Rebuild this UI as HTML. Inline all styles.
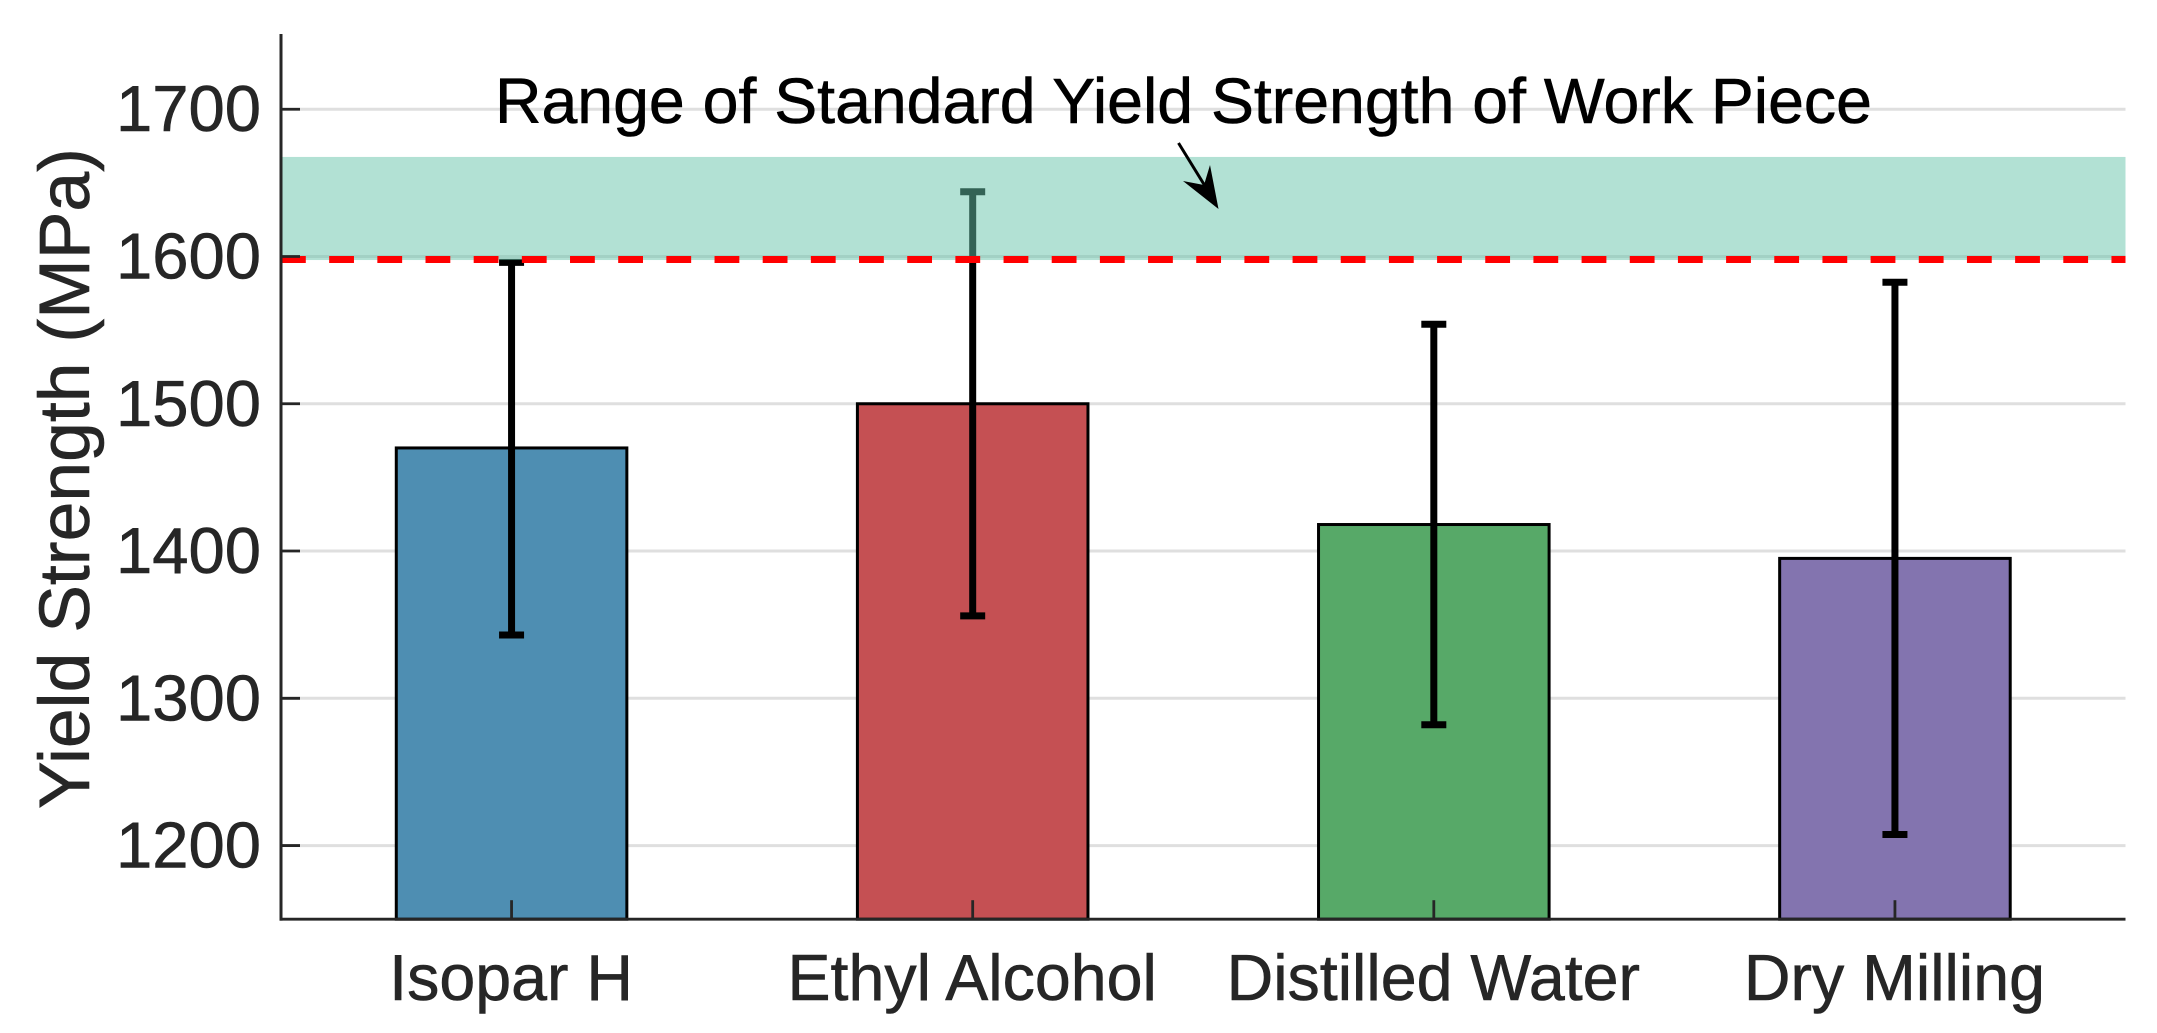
<!DOCTYPE html>
<html lang="en">
<head>
<meta charset="utf-8">
<title>Yield Strength by Cooling Medium</title>
<style>
html,body{margin:0;padding:0;background:#fff;width:2157px;height:1033px;overflow:hidden}
svg{display:block;font-family:"Liberation Sans",Arial,sans-serif}
</style>
</head>
<body>
<svg id="chart" width="2157" height="1033" viewBox="0 0 2157 1033" xmlns="http://www.w3.org/2000/svg">
  <rect x="0" y="0" width="2157" height="1033" fill="#ffffff"/>
  <g id="grid"></g>
  <g id="bars"></g>
  <g id="errors"></g>
  <g id="band"></g>
  <g id="threshold"></g>
  <g id="axes"></g>
  <text transform="translate(89,478.5) rotate(-90)" text-anchor="middle" font-size="71.5" fill="#262626" stroke="#262626" stroke-width="0.6">Yield Strength (MPa)</text>
  <text x="495" y="123" font-size="64.4" fill="#000000" stroke="#000000" stroke-width="0.6">Range of Standard Yield Strength of Work Piece</text>
  <g>
    <line x1="1178.5" y1="143" x2="1205" y2="186" stroke="#000" stroke-width="3"/>
    <polygon points="1218.5,209 1183,181 1204,185 1210,165" fill="#000"/>
  </g>
</svg>
<script>
// Chart data
const categories = ["Isopar H", "Ethyl Alcohol", "Distilled Water", "Dry Milling"];
const strengthValues = [1470, 1500, 1418, 1395];
const errorLow = [1343, 1356, 1282, 1207.5];
const errorHigh = [1596, 1644, 1554, 1582.5];
const barColors = ["#4e8eb2", "#c55053", "#57a968", "#8374af"];
const yTickValues = [1200, 1300, 1400, 1500, 1600, 1700];
const bandLow = 1597.6;
const bandHigh = 1667.6;
const thresholdValue = 1598;

// Axis functions
const plotLeft = 281, plotRight = 2125.5, plotBottom = 919.2, plotTop = 35.6;
const yMin = 1150, yMax = 1750, xMin = 0.5, xMax = 4.5;
function xScale(v) { return plotLeft + (v - xMin) / (xMax - xMin) * (plotRight - plotLeft); }
function yScale(v) { return plotBottom - (v - yMin) / (yMax - yMin) * (plotBottom - plotTop); }

const NS = "http://www.w3.org/2000/svg";
function make(tag, parent, attrs) {
  const el = document.createElementNS(NS, tag);
  for (const k in attrs) el.setAttribute(k, attrs[k]);
  document.getElementById(parent).appendChild(el);
  return el;
}

// Gridlines
yTickValues.forEach(function (v) {
  const el = make("line", "grid", { x1: plotLeft, x2: plotRight, y1: yScale(v), y2: yScale(v), stroke: "#dfdfdf", "stroke-width": 3 });
  
  
});

// Bars
const barWidth = 0.5;
categories.forEach(function (c, i) {
  const x0 = xScale(i + 1 - barWidth / 2), x1 = xScale(i + 1 + barWidth / 2);
  const el = make("rect", "bars", { x: x0, y: yScale(strengthValues[i]), width: x1 - x0, height: yScale(yMin) - yScale(strengthValues[i]), fill: barColors[i], stroke: "#000", "stroke-width": 3 });
  
  
});

// Error bars
categories.forEach(function (c, i) {
  const cx = xScale(i + 1), yl = yScale(errorLow[i]), yh = yScale(errorHigh[i]);
  const slug = c.toLowerCase().replace(/ /g, '-');
  const stem = make("line", "errors", { x1: cx, x2: cx, y1: yl, y2: yh, stroke: "#000", "stroke-width": 7 });
  
  
  const capLow = make("line", "errors", { x1: cx - 12.5, x2: cx + 12.5, y1: yl, y2: yl, stroke: "#000", "stroke-width": 7 });
  
  
  const capHigh = make("line", "errors", { x1: cx - 12.5, x2: cx + 12.5, y1: yh, y2: yh, stroke: "#000", "stroke-width": 7 });
  
  
});

// Standard range band
const bandRect = make("rect", "band", { x: plotLeft, y: yScale(bandHigh), width: plotRight - plotLeft, height: yScale(bandLow) - yScale(bandHigh), fill: "#66c4aa", "fill-opacity": 0.5 });



// Threshold
const thresholdLine = make("line", "threshold", { x1: plotLeft, x2: plotRight, y1: yScale(thresholdValue), y2: yScale(thresholdValue), stroke: "#ff0000", "stroke-width": 7, "stroke-dasharray": "24.8 23.37" });



// Y ticks and labels
yTickValues.forEach(function (v) {
  const t = make("line", "axes", { x1: plotLeft, x2: plotLeft + 19, y1: yScale(v), y2: yScale(v), stroke: "#262626", "stroke-width": 2.8 });
  
  
  const l = make("text", "axes", { x: 261, y: yScale(v) + 22, "text-anchor": "end", "font-size": 65.2, fill: "#262626", stroke: "#262626", "stroke-width": 0.6 });
  l.textContent = v;
  
  
});

// X ticks and labels
categories.forEach(function (c, i) {
  const slug = c.toLowerCase().replace(/ /g, '-');
  const t = make("line", "axes", { x1: xScale(i + 1), x2: xScale(i + 1), y1: plotBottom, y2: plotBottom - 19, stroke: "#262626", "stroke-width": 2.8 });
  
  
  const l = make("text", "axes", { x: xScale(i + 1) - 0.5, y: 1000, "text-anchor": "middle", "font-size": 64.5, fill: "#262626", stroke: "#262626", "stroke-width": 0.6 });
  l.textContent = c;
  
  
});

// Axis spines
const ySpine = make("line", "axes", { x1: plotLeft, x2: plotLeft, y1: 34, y2: plotBottom + 1.4, stroke: "#262626", "stroke-width": 3 });


const xSpine = make("line", "axes", { x1: plotLeft - 1.5, x2: plotRight, y1: plotBottom, y2: plotBottom, stroke: "#262626", "stroke-width": 2.8 });


</script>
</body>
</html>
